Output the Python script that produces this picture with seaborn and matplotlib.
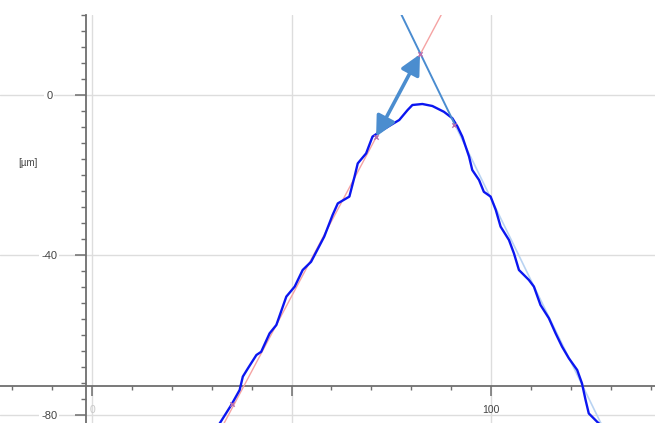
import numpy as np
import matplotlib
matplotlib.use("Agg")
import matplotlib.pyplot as plt
from matplotlib.ticker import MultipleLocator
import seaborn as sns

profile_x = [30.5, 32.0, 34.9, 37.0, 37.8, 39.1, 41.2, 42.4, 44.5, 46.2, 48.7, 50.8,
             52.8, 54.9, 58.2, 60.3, 61.6, 64.5, 65.8, 66.6, 68.7, 70.3, 72.8, 77.0,
             79.1, 80.3, 82.8, 85.3, 88.2, 90.3, 91.6, 92.8, 94.5, 95.3, 97.0, 98.2,
             99.9, 101.2, 102.4, 104.5, 105.75, 107.0, 109.5, 110.75, 112.4, 114.5,
             116.2, 117.8, 119.5, 121.6, 122.8, 123.7, 124.5, 126.6, 128.0]
profile_y = [-85.0, -82.1, -77.5, -73.75, -70.4, -68.3, -65.0, -64.2, -59.6, -57.5,
             -50.4, -47.9, -43.75, -41.7, -35.4, -30.0, -27.1, -25.4, -20.4, -17.1,
             -14.6, -10.4, -8.75, -6.25, -3.75, -2.5, -2.25, -2.75, -4.2, -5.8, -7.9,
             -10.4, -15.4, -18.75, -21.25, -24.2, -25.4, -28.75, -32.9, -36.25,
             -39.6, -43.75, -46.25, -47.9, -52.5, -55.8, -59.6, -62.9, -65.8,
             -68.75, -72.1, -76.25, -79.6, -81.7, -83.0]

# Fitted flank lines
left_fit_x = [32.6, 88.3]
left_fit_y = [-83.0, 21.5]
right_fit_x = [90.75, 128.0]
right_fit_y = [-7.0, -83.0]
tangent_x = [77.1, 90.75]
tangent_y = [21.0, -7.0]

# Measurement arrow and marker points
arrow_start = (71.2, -10.4)
arrow_end = (82.2, 10.2)
marker_x = [71.2, 82.2, 90.6, 35.0]
marker_y = [-10.4, 10.2, -7.6, -77.2]

x_labels = {0: "0", 50: "", 100: "100"}
y_major = [-80, -40, 0]
y_labels = ["-80", "-40", "0"]

sns.set_style("white")
plt.rcParams["font.family"] = ["Liberation Sans", "DejaVu Sans"]

fig = plt.figure(figsize=(6.55, 4.23), dpi=100)
ax = fig.add_axes([0, 0, 1, 408 / 423])
ax.set_xlim(-23.06, 141.1)
ax.set_ylim(-82, 20)

axis_col = "#6e6e6e"
grid_col = "#dddddd"

# axes drawn inside the plot, like the measuring software does
for side in ["top", "right"]:
    ax.spines[side].set_visible(False)
ax.spines["left"].set_position(("data", -1.5))
ax.spines["bottom"].set_position(("data", -72.7))
for side in ["left", "bottom"]:
    ax.spines[side].set_color(axis_col)
    ax.spines[side].set_linewidth(1.3)
    ax.spines[side].set_zorder(1)

ax.set_xticks(list(x_labels.keys()), list(x_labels.values()))
ax.xaxis.set_minor_locator(MultipleLocator(10))
ax.set_yticks(y_major, y_labels)
ax.yaxis.set_minor_locator(MultipleLocator(4))
ax.tick_params(axis="x", which="major", direction="out", length=7.5, width=1.1,
               color=axis_col, labelsize=7.5, labelcolor="#444444", pad=6.5, bottom=True)
ax.tick_params(axis="x", which="minor", direction="out", length=3.2, width=1.0,
               color=axis_col, bottom=True)
ax.tick_params(axis="y", which="major", direction="out", length=8, width=1.1,
               color=axis_col, labelsize=8, labelcolor="#444444", pad=18.5, left=True)
ax.tick_params(axis="y", which="minor", direction="out", length=3.5, width=1.0,
               color=axis_col, left=True)
for lab in ax.get_yticklabels():
    lab.set_horizontalalignment("center")
    lab.set_bbox(dict(facecolor="white", edgecolor="none", pad=1.5))
ax.get_xticklabels()[0].set_color("#c8c8c8")

ax.grid(True, which="major", color=grid_col, linewidth=1.0)
ax.set_axisbelow(True)

# fitted lines underneath the profile
ax.plot(left_fit_x, left_fit_y, color="#f5a3a3", lw=1.0, zorder=2)
ax.plot(right_fit_x, right_fit_y, color="#b9d3f2", lw=1.2, zorder=2)

sns.lineplot(x=profile_x, y=profile_y, sort=False, estimator=None,
             color="#0b16f0", lw=1.7, ax=ax, zorder=3,
             solid_joinstyle="round", solid_capstyle="round")

ax.plot(tangent_x, tangent_y, color="#4a8cd0", lw=1.4, zorder=4)
ax.annotate("", xy=arrow_end, xytext=arrow_start,
            arrowprops=dict(arrowstyle="<|-|>,head_length=0.5,head_width=0.25",
                            color="#4b8dcf", lw=2.6, mutation_scale=24,
                            shrinkA=0, shrinkB=0), zorder=5)
ax.scatter(marker_x, marker_y, marker="x", s=10, color="#b86fb0", lw=1.0, zorder=6)

ax.set_xlabel("")
ax.set_ylabel("")
fig.text(28 / 655, 1 - 163 / 423, "[µm]", ha="center", va="center",
         fontsize=7, color="#444444")

fig.savefig("out.png", dpi=100)
